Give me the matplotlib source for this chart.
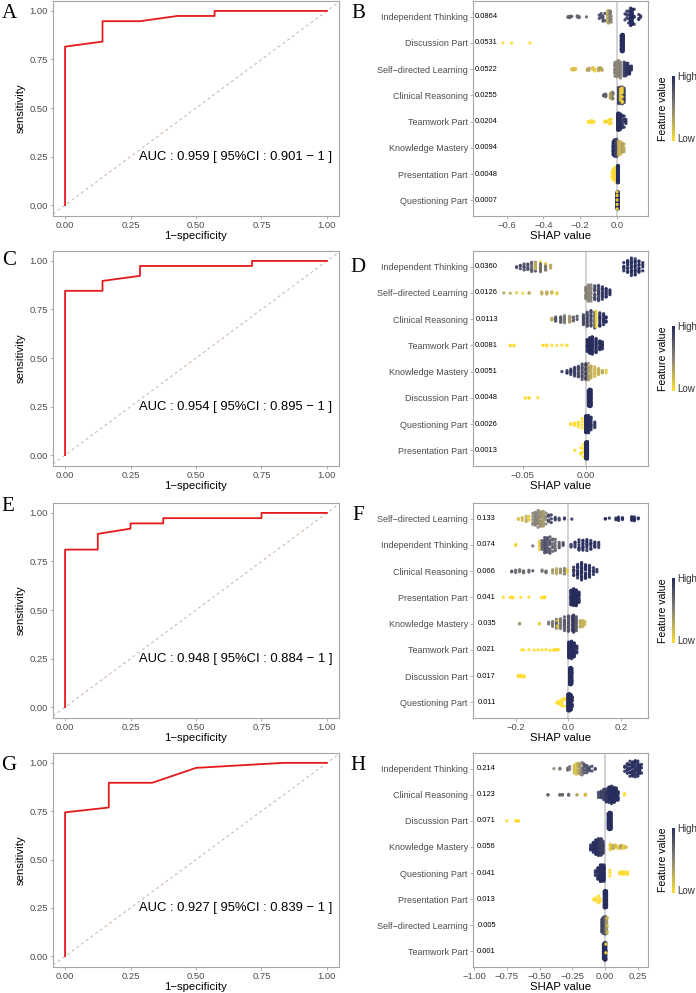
import numpy as np
import matplotlib.pyplot as plt
from matplotlib.colors import LinearSegmentedColormap
import matplotlib.transforms as mtransforms

plt.rcParams['font.family'] = ['Liberation Sans', 'DejaVu Sans']

W, H = 696, 993

# ---- ROC curves (1-specificity, sensitivity) ----
A_fpr = [0, 0, 0.143, 0.143, 0.286, 0.429, 0.571, 0.571, 1.0]
A_tpr = [0, 0.816, 0.842, 0.947, 0.947, 0.974, 0.974, 1.0, 1.0]
A_auc = 'AUC : 0.959 [ 95%CI : 0.901 \u2212 1 ]'

C_fpr = [0, 0, 0.143, 0.143, 0.286, 0.286, 0.714, 0.714, 1.0]
C_tpr = [0, 0.846, 0.846, 0.897, 0.923, 0.974, 0.974, 1.0, 1.0]
C_auc = 'AUC : 0.954 [ 95%CI : 0.895 \u2212 1 ]'

E_fpr = [0, 0, 0.125, 0.125, 0.25, 0.25, 0.375, 0.375, 0.75, 0.75, 1.0]
E_tpr = [0, 0.811, 0.811, 0.892, 0.919, 0.946, 0.946, 0.973, 0.973, 1.0, 1.0]
E_auc = 'AUC : 0.948 [ 95%CI : 0.884 \u2212 1 ]'

G_fpr = [0, 0, 0.167, 0.167, 0.333, 0.5, 0.833, 1.0]
G_tpr = [0, 0.744, 0.769, 0.897, 0.897, 0.974, 1.0, 1.0]
G_auc = 'AUC : 0.927 [ 95%CI : 0.839 \u2212 1 ]'

# ---- SHAP summaries: per feature row, (shap value, n points, feature value 0..1) ----
B_features = ['Independent Thinking', 'Discussion Part', 'Self\u2212directed Learning', 'Clinical Reasoning',
              'Teamwork Part', 'Knowledge Mastery', 'Presentation Part', 'Questioning Part']
B_mean = ['0.0864', '0.0531', '0.0522', '0.0255', '0.0204', '0.0094', '0.0048', '0.0007']
B_shap = [
    [(-0.265, 2, 0.72), (-0.255, 2, 0.72), (-0.245, 1, 0.75), (-0.215, 2, 0.7), (-0.205, 2, 0.72),
     (-0.165, 1, 0.7), (-0.095, 2, 0.85), (-0.085, 3, 0.8), (-0.075, 3, 0.85), (-0.065, 2, 0.8),
     (-0.05, 6, 0.35), (-0.045, 8, 0.25), (-0.04, 8, 0.4), (-0.035, 5, 0.6), (-0.03, 3, 0.5),
     (0.045, 2, 0.95), (0.055, 3, 0.95), (0.065, 4, 0.95), (0.075, 10, 1.0), (0.08, 14, 1.0),
     (0.085, 10, 1.0), (0.095, 4, 1.0), (0.12, 3, 0.95), (0.13, 2, 0.95)],
    [(-0.62, 1, 0.0), (-0.573, 1, 0.0), (-0.473, 1, 0.0), (0.025, 20, 1.0), (0.03, 50, 1.0), (0.035, 29, 1.0)],
    [(-0.245, 2, 0.15), (-0.235, 3, 0.2), (-0.225, 2, 0.15), (-0.16, 3, 0.3), (-0.15, 2, 0.35),
     (-0.13, 3, 0.15), (-0.12, 2, 0.1), (-0.1, 3, 0.3), (-0.09, 3, 0.35), (-0.08, 2, 0.3),
     (-0.01, 10, 0.55), (0.0, 14, 0.5), (0.01, 14, 0.5), (0.02, 8, 0.55),
     (0.04, 8, 0.9), (0.05, 8, 0.95), (0.06, 8, 0.95), (0.07, 5, 1.0), (0.08, 3, 1.0)],
    [(-0.07, 3, 0.75), (-0.06, 4, 0.7), (-0.035, 5, 0.3), (-0.025, 6, 0.4), (-0.02, 3, 0.6),
     (0.01, 15, 0.9), (0.02, 20, 0.85), (0.03, 20, 0.7), (0.04, 12, 0.9), (0.02, 6, 0.1), (0.03, 6, 0.05)],
    [(-0.155, 2, 0.0), (-0.145, 3, 0.0), (-0.135, 3, 0.02), (-0.125, 2, 0.0), (-0.065, 2, 0.0),
     (-0.055, 2, 0.05), (-0.04, 3, 0.0), (-0.03, 2, 0.05), (0.005, 25, 1.0), (0.01, 30, 1.0),
     (0.02, 12, 1.0), (0.03, 6, 1.0), (0.04, 4, 1.0), (0.05, 3, 1.0)],
    [(-0.02, 10, 0.95), (-0.015, 15, 1.0), (-0.01, 18, 1.0), (-0.005, 15, 0.9), (0.0, 8, 0.8),
     (0.01, 10, 0.3), (0.02, 10, 0.2), (0.03, 8, 0.35), (0.04, 4, 0.3)],
    [(-0.025, 4, 0.0), (-0.018, 6, 0.0), (-0.01, 5, 0.05), (-0.005, 3, 0.1), (0.005, 40, 1.0), (0.008, 42, 1.0)],
    [(0.0, 30, 1.0), (0.004, 40, 1.0), (0.008, 25, 1.0), (0.002, 5, 0.0)],
]

D_features = ['Independent Thinking', 'Self\u2212directed Learning', 'Clinical Reasoning', 'Teamwork Part',
              'Knowledge Mastery', 'Discussion Part', 'Questioning Part', 'Presentation Part']
D_mean = ['0.0360', '0.0126', '0.0113', '0.0081', '0.0051', '0.0048', '0.0026', '0.0013']
D_shap = [
    [(-0.055, 2, 0.8), (-0.052, 3, 0.85), (-0.049, 4, 0.85), (-0.046, 5, 0.8), (-0.043, 6, 0.75),
     (-0.04, 4, 0.8), (-0.04, 3, 0.2), (-0.036, 4, 0.1), (-0.036, 4, 0.7), (-0.032, 4, 0.15),
     (-0.032, 3, 0.6), (-0.028, 3, 0.3),
     (0.03, 5, 1.0), (0.033, 9, 1.0), (0.036, 12, 1.0), (0.039, 12, 1.0), (0.042, 9, 1.0), (0.045, 4, 1.0)],
    [(-0.065, 1, 0.35), (-0.06, 1, 0.3), (-0.055, 1, 0.1), (-0.05, 1, 0.05), (-0.045, 2, 0.3),
     (-0.035, 3, 0.25), (-0.031, 3, 0.3), (-0.027, 3, 0.2), (-0.023, 2, 0.1),
     (0.0, 12, 0.55), (0.002, 14, 0.5), (0.004, 8, 0.55), (0.007, 10, 0.85), (0.01, 12, 0.9),
     (0.013, 10, 0.95), (0.016, 8, 1.0), (0.019, 4, 1.0)],
    [(-0.027, 3, 0.3), (-0.024, 4, 0.8), (-0.02, 6, 0.75), (-0.017, 6, 0.6), (-0.013, 6, 0.4),
     (-0.01, 4, 0.7), (-0.007, 2, 0.8), (-0.002, 8, 0.85), (0.001, 12, 0.85), (0.004, 12, 0.85),
     (0.007, 8, 0.9), (0.008, 8, 0.05), (0.011, 10, 1.0), (0.014, 8, 1.0), (0.016, 4, 1.0)],
    [(-0.06, 2, 0.0), (-0.057, 2, 0.0), (-0.034, 2, 0.0), (-0.031, 2, 0.0), (-0.027, 1, 0.0),
     (-0.023, 1, 0.0), (-0.019, 1, 0.0), (-0.015, 2, 0.0), (0.001, 10, 1.0), (0.003, 20, 1.0),
     (0.005, 22, 1.0), (0.008, 16, 1.0), (0.011, 10, 1.0), (0.013, 6, 1.0)],
    [(-0.019, 1, 0.95), (-0.015, 3, 0.95), (-0.012, 5, 0.95), (-0.009, 8, 0.9), (-0.006, 10, 0.85),
     (-0.003, 12, 0.8), (0.0, 12, 0.6), (0.0, 8, 0.9), (0.002, 10, 0.4), (0.004, 8, 0.3),
     (0.007, 8, 0.2), (0.01, 6, 0.25), (0.013, 3, 0.3), (0.016, 2, 0.1)],
    [(-0.048, 2, 0.0), (-0.045, 2, 0.0), (-0.038, 1, 0.0), (0.002, 25, 1.0), (0.003, 45, 1.0), (0.004, 25, 1.0)],
    [(-0.012, 3, 0.0), (-0.009, 4, 0.0), (-0.006, 4, 0.0), (-0.003, 4, 0.0), (0.0, 45, 1.0),
     (0.002, 25, 1.0), (0.004, 10, 1.0), (0.007, 4, 1.0)],
    [(-0.009, 1, 0.0), (-0.004, 3, 0.0), (-0.002, 4, 0.0), (0.0, 50, 1.0), (0.0012, 42, 1.0)],
]

F_features = ['Self\u2212directed Learning', 'Independent Thinking', 'Clinical Reasoning', 'Presentation Part',
              'Knowledge Mastery', 'Teamwork Part', 'Discussion Part', 'Questioning Part']
F_mean = ['0.133', '0.074', '0.066', '0.041', '0.035', '0.021', '0.017', '0.011']
F_shap = [
    [(-0.19, 2, 0.15), (-0.175, 3, 0.2), (-0.16, 3, 0.3), (-0.15, 3, 0.1), (-0.135, 5, 0.5),
     (-0.125, 8, 0.55), (-0.115, 10, 0.5), (-0.105, 10, 0.45), (-0.095, 8, 0.4), (-0.085, 5, 0.5),
     (-0.075, 4, 0.85), (-0.065, 3, 0.9), (-0.05, 3, 0.9), (-0.035, 2, 0.9), (-0.015, 2, 0.9),
     (0.013, 1, 0.95), (0.14, 2, 1.0), (0.155, 1, 1.0), (0.18, 2, 1.0), (0.19, 3, 1.0),
     (0.205, 3, 1.0), (0.24, 4, 1.0), (0.25, 5, 1.0), (0.265, 2, 1.0)],
    [(-0.2, 3, 0.05), (-0.135, 1, 0.6), (-0.11, 4, 0.1), (-0.1, 6, 0.7), (-0.09, 8, 0.85),
     (-0.08, 8, 0.8), (-0.07, 7, 0.8), (-0.06, 6, 0.7), (-0.05, 5, 0.7), (-0.035, 4, 0.75),
     (-0.02, 3, 0.8), (0.01, 3, 0.9), (0.025, 4, 0.95), (0.04, 6, 1.0), (0.055, 8, 1.0),
     (0.07, 7, 1.0), (0.085, 6, 1.0), (0.1, 5, 1.0), (0.115, 3, 1.0)],
    [(-0.215, 2, 0.75), (-0.2, 2, 0.7), (-0.185, 3, 0.6), (-0.17, 3, 0.65), (-0.15, 2, 0.7),
     (-0.135, 1, 0.75), (-0.1, 2, 0.6), (-0.085, 3, 0.65), (-0.06, 3, 0.4), (-0.045, 5, 0.3),
     (-0.03, 4, 0.45), (-0.015, 3, 0.6), (-0.005, 2, 0.1), (0.02, 6, 0.95), (0.035, 10, 1.0),
     (0.05, 14, 1.0), (0.065, 12, 1.0), (0.08, 8, 1.0), (0.095, 4, 1.0), (0.108, 2, 1.0)],
    [(-0.247, 1, 0.0), (-0.22, 2, 0.0), (-0.21, 2, 0.0), (-0.18, 1, 0.0), (-0.15, 1, 0.0),
     (-0.1, 3, 0.0), (-0.09, 3, 0.0), (0.01, 20, 1.0), (0.02, 30, 1.0), (0.03, 20, 1.0), (0.04, 10, 1.0)],
    [(-0.185, 2, 0.4), (-0.11, 2, 0.1), (-0.075, 3, 0.55), (-0.06, 4, 0.6), (-0.045, 6, 0.7),
     (-0.04, 3, 0.1), (-0.03, 8, 0.6), (-0.015, 10, 0.75), (0.0, 12, 0.8), (0.015, 12, 0.85),
     (0.02, 10, 0.95), (0.03, 8, 0.8), (0.045, 5, 0.3), (0.055, 4, 0.25), (0.063, 2, 0.2)],
    [(-0.177, 1, 0.0), (-0.17, 1, 0.0), (-0.15, 1, 0.0), (-0.13, 1, 0.0), (-0.115, 1, 0.0),
     (-0.1, 1, 0.0), (-0.085, 1, 0.0), (-0.07, 1, 0.0), (-0.055, 2, 0.0), (-0.045, 2, 0.0),
     (-0.038, 1, 0.0), (0.002, 30, 1.0), (0.012, 30, 1.0), (0.022, 15, 1.0), (0.032, 5, 1.0)],
    [(-0.19, 3, 0.0), (-0.18, 4, 0.0), (-0.168, 3, 0.0), (0.005, 35, 1.0), (0.009, 30, 1.0), (0.013, 18, 1.0)],
    [(-0.044, 2, 0.0), (-0.035, 4, 0.0), (-0.025, 4, 0.0), (-0.015, 3, 0.0), (-0.002, 25, 1.0),
     (0.004, 30, 1.0), (0.01, 20, 1.0), (0.015, 5, 1.0)],
]

H_features = ['Independent Thinking', 'Clinical Reasoning', 'Discussion Part', 'Knowledge Mastery',
              'Questioning Part', 'Presentation Part', 'Self\u2212directed Learning', 'Teamwork Part']
H_mean = ['0.214', '0.123', '0.071', '0.056', '0.041', '0.013', '0.005', '0.001']
H_shap = [
    [(-0.39, 1, 0.5), (-0.345, 2, 0.6), (-0.285, 2, 0.7), (-0.27, 2, 0.6), (-0.235, 4, 0.2),
     (-0.22, 6, 0.15), (-0.205, 6, 0.3), (-0.19, 6, 0.4), (-0.175, 5, 0.6), (-0.16, 5, 0.8),
     (-0.14, 4, 0.85), (-0.12, 3, 0.85), (-0.1, 2, 0.85), (-0.075, 2, 0.85),
     (0.15, 3, 1.0), (0.17, 6, 1.0), (0.19, 8, 1.0), (0.21, 10, 1.0), (0.23, 10, 1.0),
     (0.25, 9, 1.0), (0.265, 6, 1.0), (0.278, 3, 1.0)],
    [(-0.436, 2, 0.7), (-0.345, 2, 0.65), (-0.325, 2, 0.7), (-0.278, 2, 0.7), (-0.214, 2, 0.3),
     (-0.15, 4, 0.2), (-0.05, 3, 0.9), (-0.03, 6, 0.9), (-0.01, 8, 0.9), (0.01, 10, 0.95),
     (0.03, 14, 1.0), (0.05, 16, 1.0), (0.07, 14, 1.0), (0.085, 10, 1.0), (0.1, 6, 1.0), (0.148, 2, 0.0)],
    [(-0.75, 1, 0.0), (-0.68, 2, 0.0), (-0.66, 2, 0.0), (0.025, 25, 1.0), (0.035, 40, 1.0), (0.045, 30, 1.0)],
    [(-0.11, 4, 1.0), (-0.09, 8, 1.0), (-0.07, 14, 1.0), (-0.05, 18, 0.95), (-0.03, 20, 0.9),
     (-0.015, 10, 0.9), (0.04, 6, 0.1), (0.06, 4, 0.3), (0.08, 3, 0.2), (0.1, 3, 0.1),
     (0.12, 3, 0.35), (0.14, 3, 0.1), (0.16, 2, 0.2)],
    [(-0.074, 3, 1.0), (-0.055, 10, 1.0), (-0.035, 20, 1.0), (-0.02, 25, 1.0), (-0.008, 20, 1.0),
     (0.037, 3, 0.0), (0.11, 2, 0.0), (0.125, 4, 0.0), (0.14, 4, 0.0), (0.16, 3, 0.0), (0.172, 2, 0.0)],
    [(-0.086, 2, 0.0), (-0.07, 3, 0.0), (-0.05, 3, 0.0), (-0.037, 2, 0.0), (-0.005, 30, 1.0),
     (0.003, 35, 1.0), (0.011, 25, 1.0)],
    [(-0.025, 8, 0.85), (-0.015, 15, 0.9), (-0.005, 30, 0.8), (0.005, 30, 0.7), (0.012, 10, 0.4), (0.017, 3, 0.2)],
    [(-0.012, 15, 1.0), (-0.004, 40, 1.0), (0.002, 30, 1.0), (0.007, 10, 1.0), (0.006, 2, 0.0)],
]

cmap = LinearSegmentedColormap.from_list('feat', ['#FFDD33', '#8C8676', '#262C5C'])


def px_axes(fig, left, top, right, bottom):
    return fig.add_axes([left / W, 1 - bottom / H, (right - left) / W, (bottom - top) / H])


def style_box(ax):
    for sp in ax.spines.values():
        sp.set_color('#A6A6A6')
        sp.set_linewidth(0.8)
    ax.tick_params(length=2, width=0.6, color='#A6A6A6', labelsize=6.8, labelcolor='#4D4D4D', pad=1.5)


def draw_roc(ax, fpr, tpr, auc):
    ax.axline((0, 0), (1, 1), color='#C9B3A3', lw=0.7, ls=(0, (3, 3)))
    ax.plot(fpr, tpr, color='#E41A1C', lw=1.3)
    ax.set_xlim(-0.046, 1.046)
    ax.set_ylim(-0.056, 1.051)
    ticks = [0, 0.25, 0.5, 0.75, 1.0]
    labels = ['0.00', '0.25', '0.50', '0.75', '1.00']
    ax.set_xticks(ticks, labels)
    ax.set_yticks(ticks, labels)
    ax.text(0.65, 0.25, auc, ha='center', va='center', fontsize=9.4)
    ax.set_xlabel('1\u2212specificity', fontsize=8.2, labelpad=1)
    ax.set_ylabel('sensitivity', fontsize=8.2, labelpad=3)
    style_box(ax)


def vdc(k):
    v, den = 0.0, 1.0
    while k:
        den *= 2
        k, r = divmod(k, 2)
        v += r / den
    return v


def sina_offsets(xp, maxw=0.34, bw=5.0):
    # width of each point's band follows local point count (sina style)
    dens = np.array([np.sum(np.exp(-0.5 * ((xp - v) / bw) ** 2)) for v in xp])
    w = maxw * dens / dens.max()
    order = np.argsort(xp, kind='stable')
    q = np.zeros(len(xp))
    for k, i in enumerate(order):
        q[i] = 2 * vdc(k + 1) - 1
    return w * q


def draw_shap(ax, features, means, rows, xlim, ticks, ticklabels, width_px):
    n = len(features)
    ax.set_xlim(xlim)
    ax.set_ylim(0.4, n + 0.6)
    ax.axvline(0, color='#D0D0D0', lw=1.3, zorder=0)
    px_per_unit = width_px / (xlim[1] - xlim[0])
    for i, row in enumerate(rows):
        ypos = n - i
        xs = np.repeat([r[0] for r in row], [r[1] for r in row])
        fs = np.repeat([r[2] for r in row], [r[1] for r in row])
        dy = sina_offsets(xs * px_per_unit)
        ax.scatter(xs, ypos + dy, c=fs, cmap=cmap, vmin=0, vmax=1, s=5.5, lw=0, alpha=0.9)
    ax.set_yticks(np.arange(n, 0, -1), features)
    ax.set_xticks(ticks, ticklabels)
    trans = mtransforms.blended_transform_factory(ax.transAxes, ax.transData)
    for i, m in enumerate(means):
        ax.text(0.079, n - i, m, transform=trans, ha='center', va='center', fontsize=5.4, color='black')
    ax.set_xlabel('SHAP value', fontsize=8.2, labelpad=1)
    style_box(ax)
    ax.tick_params(axis='y', labelsize=6.5)


def draw_legend(fig, center):
    cax = px_axes(fig, 671.5, center - 32.5, 674.5, center + 32.5)
    cax.imshow(np.linspace(0, 1, 256)[:, None], aspect='auto', cmap=cmap, origin='lower')
    cax.axis('off')
    fig.text(677 / W, 1 - (center - 31) / H, 'High', fontsize=7, color='#333333', va='center')
    fig.text(677 / W, 1 - (center + 31) / H, 'Low', fontsize=7, color='#333333', va='center')
    fig.text(663 / W, 1 - center / H, 'Feature value', fontsize=7.6, rotation=90,
             ha='center', va='center')


fig = plt.figure(figsize=(W / 100, H / 100), dpi=100)
fig.patch.set_facecolor('white')

rows_px = [(1, 216), (251, 466), (503, 718), (753, 967)]
roc_data = [(A_fpr, A_tpr, A_auc), (C_fpr, C_tpr, C_auc), (E_fpr, E_tpr, E_auc), (G_fpr, G_tpr, G_auc)]
shap_data = [
    (B_features, B_mean, B_shap, (-0.785, 0.172), [-0.6, -0.4, -0.2, 0.0], ['\u22120.6', '\u22120.4', '\u22120.2', '0.0']),
    (D_features, D_mean, D_shap, (-0.0897, 0.0494), [-0.05, 0.0], ['\u22120.05', '0.00']),
    (F_features, F_mean, F_shap, (-0.363, 0.303), [-0.2, 0.0, 0.2], ['\u22120.2', '0.0', '0.2']),
    (H_features, H_mean, H_shap, (-1.01, 0.33), [-1.0, -0.75, -0.5, -0.25, 0.0, 0.25],
     ['\u22121.00', '\u22120.75', '\u22120.50', '\u22120.25', '0.00', '0.25']),
]
letters_left = [('A', 9, 13), ('C', 9, 261), ('E', 8, 507), ('G', 9, 765)]
letters_right = [('B', 358, 13), ('D', 358, 267), ('F', 358, 516), ('H', 358, 766)]

for k, (top, bottom) in enumerate(rows_px):
    ax = px_axes(fig, 53, top, 339, bottom)
    draw_roc(ax, *roc_data[k])
    ax2 = px_axes(fig, 472.7, top, 648.3, bottom)
    feats, means, rows, xlim, ticks, tl = shap_data[k]
    draw_shap(ax2, feats, means, rows, xlim, ticks, tl, 648.3 - 472.7)
    draw_legend(fig, (top + bottom) / 2)
    for (lab, x, y) in (letters_left[k], letters_right[k]):
        fig.text(x / W, 1 - y / H, lab, family=['Liberation Serif', 'DejaVu Serif'], fontsize=15,
                 ha='center', va='center')

fig.savefig('out.png', dpi=100)
